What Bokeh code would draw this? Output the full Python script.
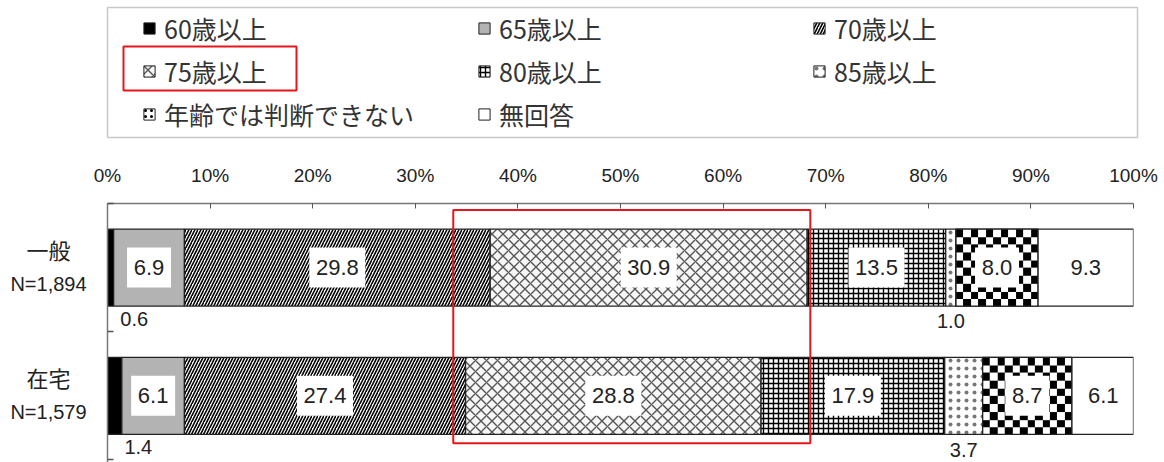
import numpy as np
from bokeh.plotting import figure
from bokeh.models import (ColumnDataSource, Range1d, FixedTicker, PrintfTickFormatter,
                          Legend, LegendItem, BoxAnnotation)
from bokeh.layouts import column, row
from bokeh.core.properties import value
from bokeh.embed import file_html
from bokeh.resources import INLINE

# ---------------- data ----------------
categories = ["一般", "在宅"]
sample_sizes = ["N=1,894", "N=1,579"]
series_names = ["60歳以上", "65歳以上", "70歳以上", "75歳以上",
                "80歳以上", "85歳以上", "年齢では判断できない", "無回答"]
age60 = [0.6, 1.4]
age65 = [6.9, 6.1]
age70 = [29.8, 27.4]
age75 = [30.9, 28.8]
age80 = [13.5, 17.9]
age85 = [1.0, 3.7]
unknown = [8.0, 8.7]
no_answer = [9.3, 6.1]
x_ticks = [0, 10, 20, 30, 40, 50, 60, 70, 80, 90, 100]

series_values = [age60, age65, age70, age75, age80, age85, unknown, no_answer]

# ---------------- styles ----------------
NUM_FONT = "'Liberation Sans Narrow', 'Arial Narrow', 'Liberation Sans', sans-serif"
JP_FONT = "'Noto Sans CJK JP', sans-serif"

styles = [
    dict(fill_color="black"),
    dict(fill_color="#b3b3b3"),
    dict(fill_color="white", hatch_pattern="right_diagonal_line", hatch_color="black",
         hatch_scale=6, hatch_weight=1.6),
    dict(fill_color="#f6f6f6", hatch_pattern="diagonal_cross", hatch_color="#555555",
         hatch_scale=11, hatch_weight=1.4),
    dict(fill_color="white", hatch_pattern="cross", hatch_color="black",
         hatch_scale=5, hatch_weight=1.4),
    dict(fill_color="white", hatch_pattern="dot", hatch_color="#777777",
         hatch_scale=8, hatch_weight=1.0),
    dict(fill_color="white", hatch_pattern="dot", hatch_color="black",
         hatch_scale=6, hatch_weight=2.0),
    dict(fill_color="white"),
]
CHECKER_SERIES = 6
BAR_HEIGHT = 0.6
CELL_X = 0.73      # checker cell width, in % units
CELL_Y = 0.06      # checker cell height, in category units

cat_y = [0.5, 1.5]
vals = np.array(series_values, dtype=float)
rights = np.cumsum(vals, axis=0)
lefts = rights - vals

# ---------------- legend figure ----------------
pl = figure(width=1164, height=140, x_range=Range1d(0, 1030), y_range=Range1d(130, 0),
            x_axis_location=None, y_axis_location=None, output_backend="svg",
            toolbar_location=None, min_border_left=107, min_border_right=27,
            min_border_top=7, min_border_bottom=3)
pl.grid.visible = False
pl.outline_line_color = "#c8c8c8"
pl.outline_line_width = 1.5

# ---------------- chart figure ----------------
p = figure(width=1074, height=322, x_range=Range1d(0, 100), y_range=Range1d(2.02, 0),
           x_axis_location="above", output_backend="svg", toolbar_location=None,
           min_border_left=17, min_border_right=31, min_border_top=63, min_border_bottom=0)
p.grid.visible = False
p.outline_line_color = None

# category label strip on the left
pc = figure(width=90, height=322, x_range=Range1d(0, 90), y_range=p.y_range,
            x_axis_location=None, y_axis_location=None, output_backend="svg",
            toolbar_location=None, min_border_left=0, min_border_right=0,
            min_border_top=63, min_border_bottom=0)
pc.grid.visible = False
pc.outline_line_color = None

items = []
for i, name in enumerate(series_names):
    src = ColumnDataSource(dict(y=cat_y, left=lefts[i], right=rights[i]))
    p.hbar(y="y", left="left", right="right", height=BAR_HEIGHT, source=src,
           line_color="#222222", line_width=1.3, **styles[i])
    if i == CHECKER_SERIES:
        # checkerboard texture built from the segment extents
        imgs, xs, ys, dws, dhs = [], [], [], [], []
        for j in range(len(categories)):
            nx = max(1, int(round(vals[i, j] / CELL_X)))
            ny = max(1, int(round(BAR_HEIGHT / CELL_Y)))
            jj, ii = np.meshgrid(np.arange(nx), np.arange(ny))
            img = np.where((ii + jj) % 2 == 0, 0xFF000000, 0xFFFFFFFF).astype(np.uint32)
            imgs.append(img)
            xs.append(lefts[i, j])
            ys.append(cat_y[j] - BAR_HEIGHT / 2)
            dws.append(vals[i, j])
            dhs.append(BAR_HEIGHT)
        p.image_rgba(image=imgs, x=xs, y=ys, dw=dws, dh=dhs)
        p.hbar(y="y", left="left", right="right", height=BAR_HEIGHT, source=src,
               fill_alpha=0, line_color="#222222", line_width=1.3)
    lr = pl.hbar(y="y", left="left", right="right", height=BAR_HEIGHT, source=src,
                 line_color="#222222", line_width=1.0, visible=False, **styles[i])
    items.append(LegendItem(label=name, renderers=[lr]))

legend = Legend(items=items, location=(35, 5), orientation="horizontal", ncols=3,
                glyph_width=14, glyph_height=14, label_standoff=8, label_width=306,
                label_height=30, spacing=7, padding=0, margin=0,
                border_line_color=None, background_fill_alpha=0,
                label_text_font=JP_FONT, label_text_font_size="25px",
                label_text_color="#333333")
pl.add_layout(legend)

# red highlight in legend (around 75歳以上)
pl.add_layout(BoxAnnotation(left=16, right=189, top=39, bottom=83, fill_alpha=0,
                            line_color="#e8151b", line_alpha=1, line_width=2))

# ---------------- labels ----------------
inside_series = [1, 2, 3, 4, 6, 7]
ix, iy, itxt, iw = [], [], [], []
for i in inside_series:
    for j in range(len(categories)):
        t = "%.1f" % vals[i, j]
        ix.append((lefts[i, j] + rights[i, j]) / 2)
        iy.append(cat_y[j])
        itxt.append(t)
        iw.append(12 * len(t) + 8)
lab_src = ColumnDataSource(dict(x=ix, y=iy, text=itxt, w=iw))
p.rect(x="x", y="y", width="w", height=40, width_units="screen", height_units="screen",
       source=lab_src, fill_color="white", line_color=None)
p.text(x="x", y="y", text="text", source=lab_src, text_align="center",
       text_baseline="middle", text_font=value(NUM_FONT), text_font_size="22px",
       text_color="#222222")

ox, oy, otxt = [], [], []
for j in range(len(categories)):
    ox.append((lefts[0, j] + rights[0, j]) / 2 + 2.3)
    oy.append(cat_y[j] + 0.40)
    otxt.append("%.1f" % vals[0, j])
    ox.append((lefts[5, j] + rights[5, j]) / 2)
    oy.append(cat_y[j] + 0.42)
    otxt.append("%.1f" % vals[5, j])
out_src = ColumnDataSource(dict(x=ox, y=oy, text=otxt))
p.text(x="x", y="y", text="text", source=out_src, text_align="center",
       text_baseline="middle", text_font=value(NUM_FONT), text_font_size="20px",
       text_color="#222222")

# category labels
CAT_LABEL_X = 48
pc.text(x=[CAT_LABEL_X] * len(categories), y=[cy - 0.145 for cy in cat_y], text=categories,
        text_align="center", text_baseline="middle", text_font=value(JP_FONT),
        text_font_size="22px", text_color="#222222")
pc.text(x=[CAT_LABEL_X] * len(categories), y=[cy + 0.13 for cy in cat_y], text=sample_sizes,
        text_align="center", text_baseline="middle", text_font=value(NUM_FONT),
        text_font_size="20px", text_color="#222222")

# red highlight around 75歳以上 segments
p.add_layout(BoxAnnotation(left=float(lefts[3].min()) - 1.2, right=float(rights[3].max()) + 0.3,
                           top=0.05, bottom=1.87, fill_alpha=0,
                           line_color="#e8151b", line_alpha=1, line_width=2))

# ---------------- axes ----------------
xa = p.xaxis[0]
xa.ticker = FixedTicker(ticks=x_ticks)
xa.formatter = PrintfTickFormatter(format="%d%%")
xa.major_tick_in = 5
xa.major_tick_out = 0
xa.minor_tick_in = 0
xa.minor_tick_out = 0
xa.axis_line_color = "#777777"
xa.axis_line_width = 1.5
xa.major_tick_line_color = "#555555"
xa.major_label_text_font = NUM_FONT
xa.major_label_text_font_size = "19px"
xa.major_label_text_color = "#222222"
xa.major_label_standoff = 18

ya = p.yaxis[0]
ya.ticker = FixedTicker(ticks=[], minor_ticks=[0, 1, 2])
ya.major_tick_in = 0
ya.major_tick_out = 0
ya.minor_tick_in = 6
ya.minor_tick_out = 0
ya.minor_tick_line_color = "#555555"
ya.minor_tick_line_width = 1.5
ya.axis_line_color = "#777777"
ya.axis_line_width = 1.5

layout = column(pl, row(pc, p, spacing=0), spacing=0)
open("out.html", "w").write(file_html(layout, INLINE))
